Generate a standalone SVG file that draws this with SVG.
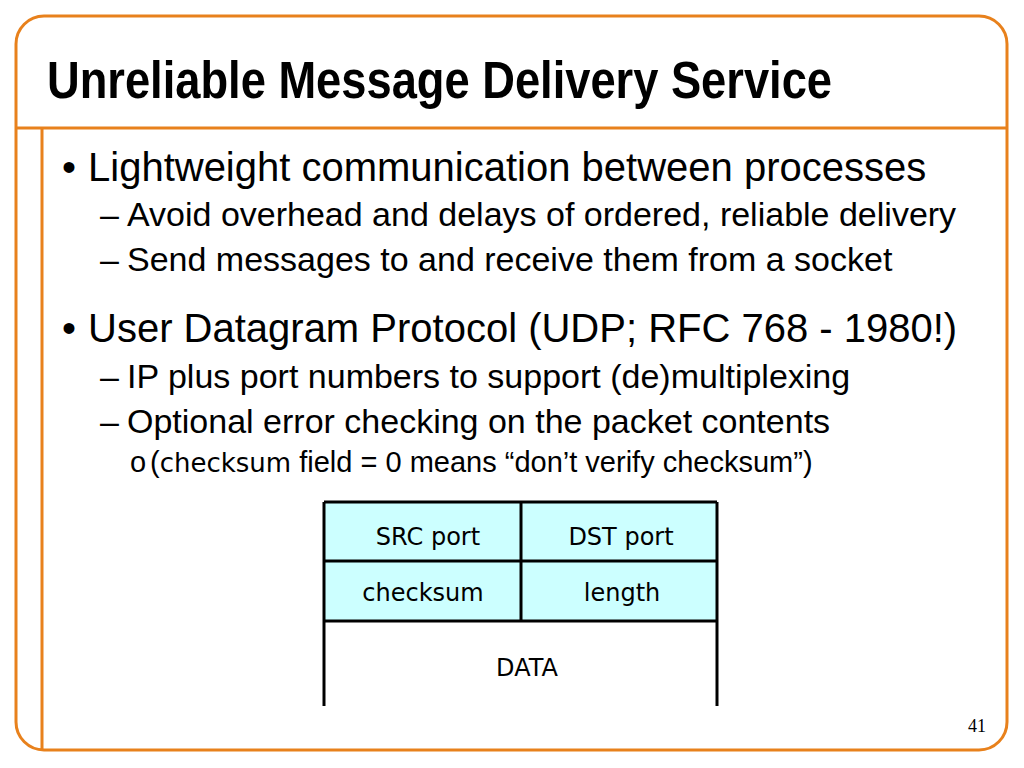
<svg xmlns="http://www.w3.org/2000/svg" width="1024" height="768" viewBox="0 0 1024 768">
<style>
.frame{fill:none;stroke:#E8811C;stroke-width:3}
.b1{font-family:"Liberation Sans",Arial,sans-serif;font-size:40px;fill:#000}
.b2{font-family:"Liberation Sans",Arial,sans-serif;font-size:34px;fill:#000}
.b3{font-family:"Liberation Sans",Arial,sans-serif;font-size:29px;fill:#000}
.comic{font-family:"DejaVu Sans","Noto Sans",sans-serif}
.cell{fill:#CCFFFF;stroke:none}
.tl{stroke:#000;stroke-width:3;fill:none}
.tt{font-family:"DejaVu Sans","Noto Sans",sans-serif;font-size:24px;fill:#000;text-anchor:middle}
</style>
<rect width="1024" height="768" fill="#fff"/>
<g id="frame">
<path class="frame" d="M16,44 A28,28 0 0 1 44,16 H979 A28,28 0 0 1 1007,44 V722 A28,28 0 0 1 979,750 H44 A28,28 0 0 1 16,722 Z"/>
<line class="frame" x1="16" y1="128" x2="1007" y2="128"/>
<line class="frame" x1="42" y1="128" x2="42" y2="750"/>
</g>
<g id="title">
<text x="47" y="98" font-family="'Liberation Sans Narrow','Liberation Sans',Arial,sans-serif" font-weight="bold" font-size="51" textLength="785" lengthAdjust="spacingAndGlyphs">Unreliable Message Delivery Service</text>
</g>
<g id="bullets">
<text class="b1" x="62" y="181">•</text>
<text class="b1" x="88" y="181">Lightweight communication between processes</text>
<text class="b2" x="100" y="226">–</text>
<text class="b2" x="127" y="226">Avoid overhead and delays of ordered, reliable delivery</text>
<text class="b2" x="100" y="271">–</text>
<text class="b2" x="127" y="271">Send messages to and receive them from a socket</text>
<text class="b1" x="62" y="342">•</text>
<text class="b1" x="88" y="342">User Datagram Protocol (UDP; RFC 768 - 1980!)</text>
<text class="b2" x="100" y="388">–</text>
<text class="b2" x="127" y="388">IP plus port numbers to support (de)multiplexing</text>
<text class="b2" x="100" y="433">–</text>
<text class="b2" x="127" y="433">Optional error checking on the packet contents</text>
<text class="b3" x="130" y="472">o</text>
<text class="b3" x="150" y="472">(<tspan class="comic" font-size="26">checksum</tspan> field = 0 means “don’t verify checksum”)</text>
</g>
<g id="udp-header">
<rect class="cell" x="324" y="502" width="393" height="119"/>
<line class="tl" x1="324" y1="502" x2="717" y2="502"/>
<line class="tl" x1="324" y1="561" x2="717" y2="561"/>
<line class="tl" x1="324" y1="621" x2="717" y2="621"/>
<line class="tl" x1="324" y1="502" x2="324" y2="706"/>
<line class="tl" x1="717" y1="502" x2="717" y2="706"/>
<line class="tl" x1="521" y1="502" x2="521" y2="621"/>
<text class="tt" x="428" y="545">SRC port</text>
<text class="tt" x="621" y="545">DST port</text>
<text class="tt" x="423" y="601">checksum</text>
<text class="tt" x="622" y="601">length</text>
<text class="tt" x="527" y="676">DATA</text>
</g>
<g id="page-number">
<text x="986" y="732" font-family="'Liberation Serif','Times New Roman',serif" font-size="18" text-anchor="end">41</text>
</g>
</svg>
